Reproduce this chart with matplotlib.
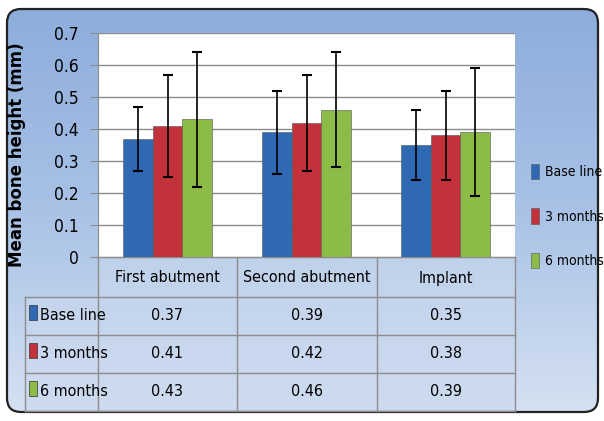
import numpy as np
import matplotlib.pyplot as plt
from matplotlib.patches import FancyBboxPatch, Rectangle
from matplotlib.colors import LinearSegmentedColormap

plt.rcParams['font.family'] = ['DejaVu Sans']
plt.rcParams['font.stretch'] = 'condensed'

# data
sites = ["First abutment", "Second abutment", "Implant"]
periods = ["Base line", "3 months", "6 months"]
baseline = [0.37, 0.39, 0.35]
months3 = [0.41, 0.42, 0.38]
months6 = [0.43, 0.46, 0.39]
err_baseline = [0.10, 0.13, 0.11]
err_months3 = [0.16, 0.15, 0.14]
err_months6 = [0.21, 0.18, 0.20]
colors = ["#2F69B3", "#C3313B", "#8CBB47"]

W, H = 604, 421
fig = plt.figure(figsize=(W / 100, H / 100), dpi=100)

# background panel (pixel coordinates)
bg = fig.add_axes([0, 0, 1, 1])
bg.set_xlim(0, W)
bg.set_ylim(H, 0)
bg.axis('off')
panel = FancyBboxPatch((7, 9), 591, 403, boxstyle="round,pad=0,rounding_size=14",
                       facecolor='none', edgecolor='#222222', linewidth=1.6, zorder=3)
grad = np.linspace(0, 1, 256).reshape(-1, 1)
cmap = LinearSegmentedColormap.from_list('bg', ['#8DADDB', '#A9C2E6', '#D5E1F2'])
im = bg.imshow(grad, extent=(7, 598, 412, 9), cmap=cmap, aspect='auto', zorder=1)
bg.add_patch(panel)
im.set_clip_path(panel)

# table
col_x = [98, 237, 377, 515]
row_y = [257, 297, 335, 373, 411]
lbl_x0 = 25
bg.add_patch(Rectangle((lbl_x0, 297), 515 - lbl_x0, 114, facecolor='#C9D8EE', alpha=0.6,
                       edgecolor='none', zorder=2))
bg.add_patch(Rectangle((98, 257), 417, 40, facecolor='#C9D8EE', alpha=0.6,
                       edgecolor='none', zorder=2))
lc = '#8C8C8C'
for xx in col_x:
    bg.plot([xx, xx], [257, 411], color=lc, lw=1, zorder=4)
bg.plot([lbl_x0, lbl_x0], [297, 411], color=lc, lw=1, zorder=4)
bg.plot([98, 515], [257, 257], color=lc, lw=1, zorder=4)
for y in row_y[1:]:
    bg.plot([lbl_x0, 515], [y, y], color=lc, lw=1, zorder=4)
for j, s in enumerate(sites):
    bg.text((col_x[j] + col_x[j + 1]) / 2, 278, s, ha='center', va='center', fontsize=11.5, zorder=5)
rows = [baseline, months3, months6]
for i, (p, vals) in enumerate(zip(periods, rows)):
    yc = (row_y[i + 1] + row_y[i + 2]) / 2
    bg.add_patch(Rectangle((29, yc - 11), 8, 15, facecolor=colors[i], edgecolor='#333333',
                           lw=0.5, zorder=5))
    bg.text(40, yc, p, ha='left', va='center', fontsize=11.5, zorder=5)
    for j, v in enumerate(vals):
        bg.text((col_x[j] + col_x[j + 1]) / 2, yc, f"{v:.2f}", ha='center', va='center',
                fontsize=11.5, zorder=5)

# bar chart
ax = fig.add_axes([98 / W, 1 - 257 / H, 417 / W, 224 / H])
ax.set_facecolor('white')
x = np.arange(len(sites))
w = 0.215
series = [(baseline, err_baseline), (months3, err_months3), (months6, err_months6)]
handles = []
for k, (vals, errs) in enumerate(series):
    b = ax.bar(x + (k - 1) * w, vals, w, color=colors[k], edgecolor='#555555', linewidth=0.4,
               zorder=3, label=periods[k])
    ax.errorbar(x + (k - 1) * w, vals, yerr=errs, fmt='none', ecolor='black', elinewidth=1.2,
                capsize=3.5, capthick=1.5, zorder=4)
    handles.append(b)
ax.set_xlim(-0.5, 2.5)
ax.set_ylim(0, 0.7)
ax.set_yticks(np.arange(0, 0.71, 0.1))
ax.set_yticklabels(['0'] + [f"{t:.1f}" for t in np.arange(0.1, 0.71, 0.1)], fontsize=12.5)
ax.set_xticks([])
ax.grid(axis='y', color='#8C8C8C', lw=1, zorder=0)
ax.tick_params(axis='y', length=6, color='#8C8C8C', pad=8)
for s in ax.spines.values():
    s.set_color('#8C8C8C')
ax.spines['top'].set_visible(False)
ax.spines['right'].set_visible(False)

fig.text(17 / W, 1 - 155 / H, "Mean bone height (mm)", rotation=90, ha='center', va='center',
         fontsize=12, fontweight='bold', fontstretch='normal')

fig.legend(handles=handles, loc='center left', bbox_to_anchor=(531 / W, 1 - 216 / H),
           frameon=False, fontsize=10, labelspacing=2.1,
           handlelength=0.6, handleheight=1.3, handletextpad=0.4, borderaxespad=0, borderpad=0)

fig.savefig("out.png", dpi=100)
